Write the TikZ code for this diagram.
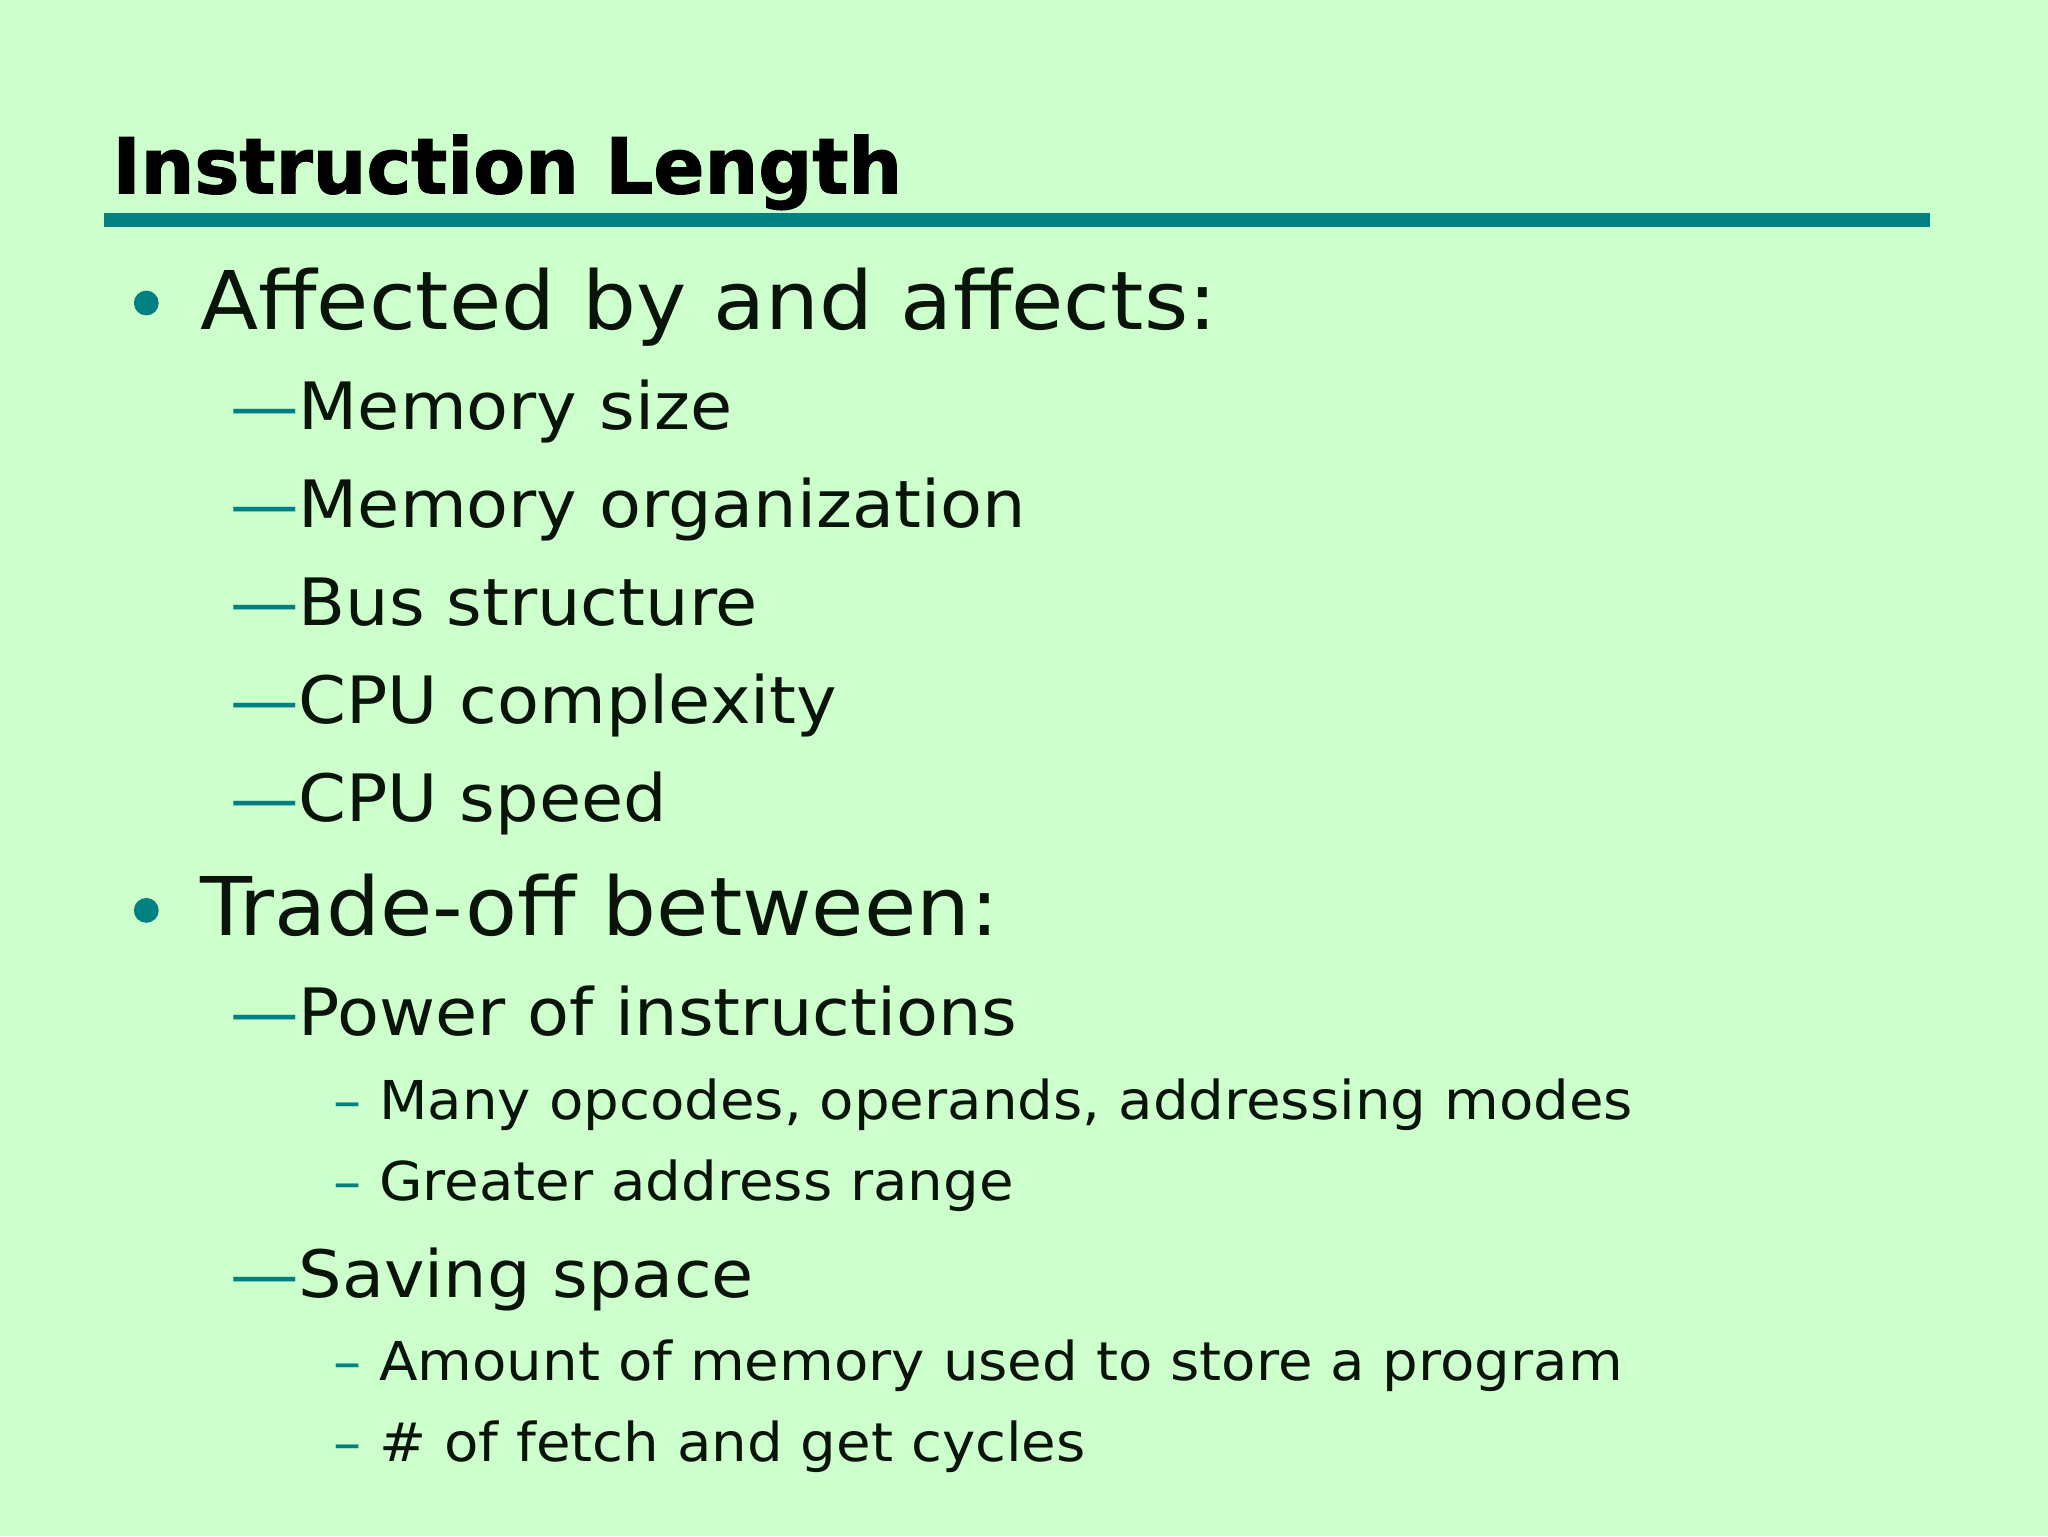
\documentclass[tikz,border=0pt]{standalone}
\usepackage{fontspec}
\setmainfont{DejaVu Sans}[FakeStretch=1.05]
\newfontfamily\titlefont{DejaVu Sans}[FakeStretch=0.98,FakeBold=1.5]
\definecolor{bg}{RGB}{204,255,204}
\definecolor{teal1}{RGB}{0,128,128}
\definecolor{txt}{RGB}{10,20,10}
\begin{document}
\begin{tikzpicture}[x=1pt,y=-1pt,
  every node/.style={anchor=base west,inner sep=0pt,text=txt},
  lone/.style={font=\fontsize{62}{70}\selectfont},
  ltwo/.style={font=\fontsize{50}{58}\selectfont},
  lthree/.style={font=\fontsize{41}{48}\selectfont}]
\fill[bg] (0,0) rectangle (1568,1176);
\useasboundingbox (0,0) rectangle (1568,1176);
\node[font=\titlefont\bfseries\fontsize{59}{68}\selectfont,text=black] (title) at (86,148) {Instruction Length};
\fill[teal1] (80,163) rectangle (1478,174);
\fill[teal1] (112,232) circle (9.5);
\node[lone] (a) at (153,252) {Affected by and affects:};
\foreach \t/\y in {Memory size/329, Memory organization/404, Bus structure/479, CPU complexity/554, CPU speed/629}{
  \node[ltwo] at (176,\y) {\textcolor{teal1}{—}\t};}
\fill[teal1] (112,697) circle (9.5);
\node[lone] (b) at (153,716) {Trade-off between:};
\node[ltwo] (p) at (176,793) {\textcolor{teal1}{—}Power of instructions};
\node[lthree] at (255,857) {\textcolor{teal1}{–} Many opcodes, operands, addressing modes};
\node[lthree] at (255,919) {\textcolor{teal1}{–} Greater address range};
\node[ltwo] (s) at (176,993) {\textcolor{teal1}{—}Saving space};
\node[lthree] at (255,1057) {\textcolor{teal1}{–} Amount of memory used to store a program};
\node[lthree] at (255,1119) {\textcolor{teal1}{–} \# of fetch and get cycles};
\end{tikzpicture}
\end{document}
